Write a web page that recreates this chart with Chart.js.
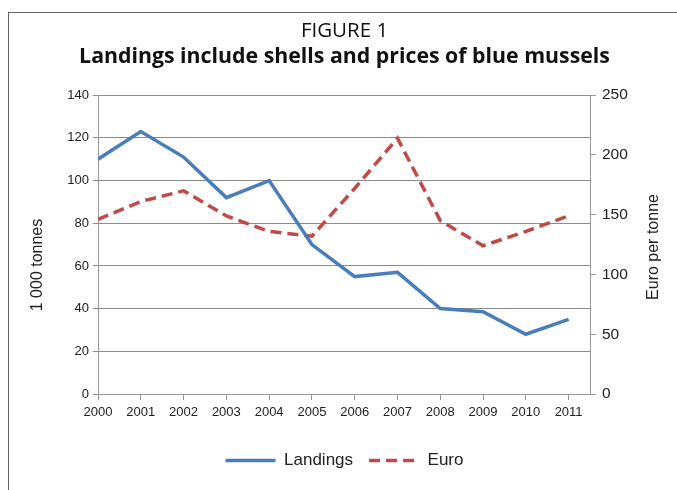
<!DOCTYPE html>
<html>
<head>
<meta charset="utf-8">
<script src="https://cdn.jsdelivr.net/npm/chart.js@4/dist/chart.umd.min.js"></script>
<style>
  html, body { margin: 0; padding: 0; background: #fff; }
  #wrap { position: relative; width: 677px; height: 490px; }
  #frame { position: absolute; left: 8px; top: 12px; width: 680px; height: 490px; border: 1.5px solid #666; box-sizing: border-box; }
  canvas { position: absolute; left: 0; top: 0; }
</style>
</head>
<body>
<div id="wrap">
  <div id="frame"></div>
  <canvas id="c" width="677" height="490"></canvas>
</div>
<script>
// Blue mussels: landings (1 000 tonnes, left axis) and price (euro per tonne, right axis)
const years = [2000, 2001, 2002, 2003, 2004, 2005, 2006, 2007, 2008, 2009, 2010, 2011];
const landings = [110, 123, 111, 92, 100, 70, 55, 57, 40, 38.5, 28, 35];
const euro = [146, 161, 170, 149, 136, 132, 172, 214, 145, 124, 136, 149];
const leftTicks = [0, 20, 40, 60, 80, 100, 120, 140];
const rightTicks = [0, 50, 100, 150, 200, 250];

const sans = 'Liberation Sans, Arial, sans-serif';
const tickFont = { family: sans, size: 13 };
const titleFamily = 'Open Sans, Noto Sans, sans-serif';

// Rotated axis captions
const axisCaptions = {
  id: 'axisCaptions',
  afterDraw(chart) {
    const { ctx } = chart;
    const caption = (text, x, y) => {
      ctx.save();
      ctx.font = '16px ' + sans;
      ctx.fillStyle = '#222';
      ctx.textAlign = 'center';
      ctx.textBaseline = 'middle';
      ctx.translate(x, y);
      ctx.rotate(-Math.PI / 2);
      ctx.fillText(text, 0, 0);
      ctx.restore();
    };
    caption('1 000 tonnes', 38, 265);
    caption('Euro per tonne', 654, 247);
  }
};

new Chart(document.getElementById('c'), {
  type: 'line',
  data: {
    datasets: [
      {
        label: 'Landings',
        data: years.map((y, i) => ({ x: y, y: landings[i] })),
        borderColor: '#4a7ebb',
        backgroundColor: '#4a7ebb',
        borderWidth: 3.5,
        pointRadius: 0,
        tension: 0,
        yAxisID: 'y'
      },
      {
        label: 'Euro',
        data: years.map((y, i) => ({ x: y, y: euro[i] })),
        borderColor: '#be4b48',
        backgroundColor: '#be4b48',
        borderWidth: 3.5,
        borderDash: [11, 6],
        pointRadius: 0,
        tension: 0,
        yAxisID: 'y2'
      }
    ]
  },
  options: {
    responsive: false,
    animation: false,
    layout: { padding: { top: 19, left: 12, right: 0, bottom: 11 } },
    plugins: {
      title: {
        display: true,
        text: 'FIGURE 1',
        color: '#111',
        font: { family: titleFamily, size: 20.5, weight: 'normal' },
        padding: { top: 0, bottom: 1 }
      },
      subtitle: {
        display: true,
        text: 'Landings include shells and prices of blue mussels',
        color: '#111',
        font: { family: titleFamily, size: 21.3, weight: 'bold' },
        padding: { top: 0, bottom: 25 }
      },
      legend: {
        position: 'bottom',
        labels: {
          usePointStyle: true,
          pointStyle: 'line',
          pointStyleWidth: 50,
          color: '#222',
          font: { family: sans, size: 17 },
          padding: 16,
          generateLabels(chart) {
            const items = Chart.defaults.plugins.legend.labels.generateLabels(chart);
            items.forEach(it => {
              const ds = chart.data.datasets[it.datasetIndex];
              it.lineDash = ds.borderDash || [];
              it.lineWidth = ds.borderWidth;
            });
            return items;
          }
        }
      },
      tooltip: { enabled: false }
    },
    scales: {
      x: {
        type: 'linear',
        min: 2000,
        max: 2011.5,
        afterBuildTicks(scale) {
          scale.ticks = years.map(v => ({ value: v }));
        },
        afterFit(scale) { scale.height = 42; },
        ticks: {
          font: tickFont,
          color: '#222',
          maxRotation: 0,
          autoSkip: false,
          padding: 5,
          callback: v => String(v)
        },
        grid: { display: true, drawOnChartArea: false, drawTicks: true, tickLength: 6, color: '#999' },
        border: { color: '#999', width: 1 }
      },
      y: {
        position: 'left',
        min: 0,
        max: 140,
        afterBuildTicks(scale) {
          scale.ticks = leftTicks.map(v => ({ value: v }));
        },
        afterFit(scale) { scale.width = 86; },
        ticks: { font: tickFont, color: '#222', padding: 4 },
        grid: { color: '#8c8c8c', lineWidth: 1, tickLength: 5 },
        border: { color: '#999', width: 1 }
      },
      y2: {
        position: 'right',
        min: 0,
        max: 250,
        afterBuildTicks(scale) {
          scale.ticks = rightTicks.map(v => ({ value: v }));
        },
        afterFit(scale) { scale.width = 87; },
        ticks: { font: { family: sans, size: 15.5 }, color: '#222', padding: 6 },
        grid: { drawOnChartArea: false, color: '#999', tickLength: 6 },
        border: { color: '#999', width: 1 }
      }
    }
  },
  plugins: [axisCaptions]
});
</script>
</body>
</html>
